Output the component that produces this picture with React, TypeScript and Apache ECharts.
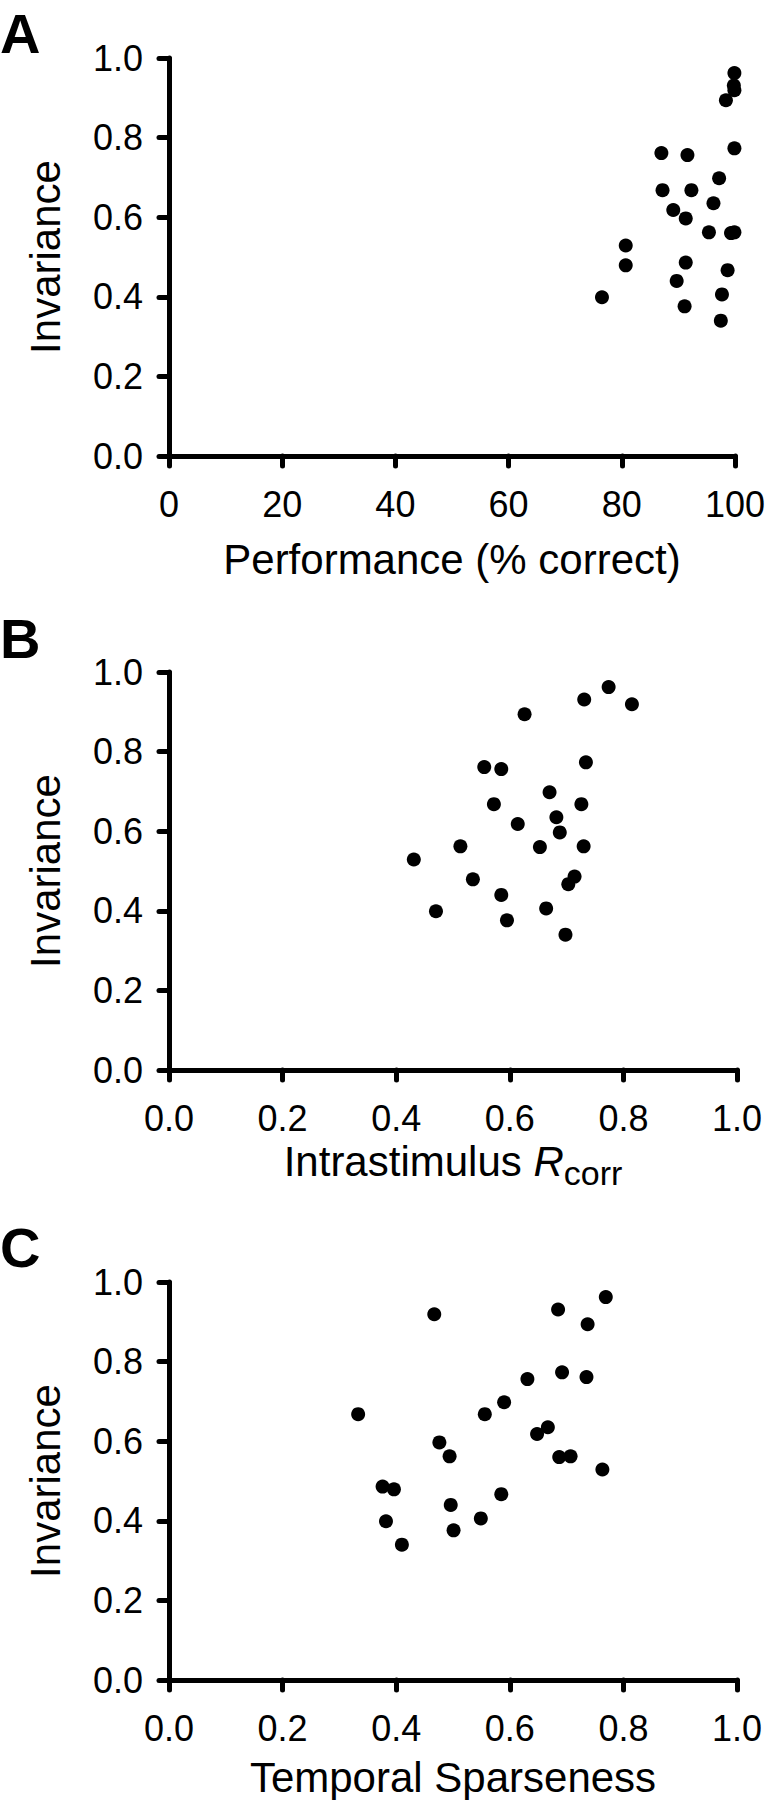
import React, { useEffect, useRef } from "react";
import * as echarts from "echarts";

// Shared invariance values (one per neuron), y-axis of all three panels
const invariance = [0.962, 0.931, 0.919, 0.894, 0.773, 0.761, 0.756, 0.698, 0.668, 0.668, 0.635, 0.618, 0.597, 0.562, 0.560, 0.562, 0.529, 0.486, 0.479, 0.467, 0.440, 0.406, 0.399, 0.376, 0.340];
// Panel A x: Performance (% correct)
const performance = [99.9, 99.8, 99.9, 98.4, 99.9, 87.0, 91.6, 97.2, 87.2, 92.3, 96.2, 89.1, 91.3, 95.4, 99.3, 99.9, 80.7, 91.3, 80.7, 98.7, 89.7, 97.7, 76.5, 91.1, 97.5];
// Panel B x: Intrastimulus Rcorr
const rcorr = [0.774, 0.731, 0.815, 0.626, 0.734, 0.555, 0.585, 0.670, 0.572, 0.726, 0.682, 0.614, 0.688, 0.513, 0.653, 0.730, 0.431, 0.714, 0.535, 0.703, 0.585, 0.664, 0.470, 0.595, 0.698];
// Panel C x: Temporal Sparseness
const sparseness = [0.769, 0.685, 0.467, 0.737, 0.692, 0.735, 0.631, 0.590, 0.556, 0.333, 0.667, 0.648, 0.476, 0.494, 0.687, 0.707, 0.763, 0.376, 0.396, 0.585, 0.496, 0.549, 0.382, 0.501, 0.410];

const panelLetters = ["A", "B", "C"];
const yTitle = "Invariance";
const xTitles = ["Performance (% correct)", "Intrastimulus {i|R}{s|corr}", "Temporal Sparseness"];

const FONT = '"Liberation Sans", Arial, Helvetica, sans-serif';

export default function App() {
  const ref = useRef<HTMLDivElement>(null);
  useEffect(() => {
    document.body.style.margin = "0";
    if (!ref.current) return;
    const chart = echarts.init(ref.current, null, { renderer: "svg" });

    const grids = [
      { left: 169, top: 58, width: 568, height: 398 },
      { left: 169, top: 672, width: 568, height: 398 },
      { left: 169, top: 1282, width: 568, height: 398 },
    ];
    const letterY = [33, 638, 1247];
    const xNameGaps = [82, 70, 76];
    const xRanges = [
      { min: 0, max: 100, interval: 20, fmt: (v: number) => String(v) },
      { min: 0, max: 1, interval: 0.2, fmt: (v: number) => v.toFixed(1) },
      { min: 0, max: 1, interval: 0.2, fmt: (v: number) => v.toFixed(1) },
    ];
    const xData = [performance, rcorr, sparseness];

    const axisLine = { show: true, onZero: false, lineStyle: { color: "#000", width: 5 } };
    const axisTick = { show: true, length: 10, lineStyle: { color: "#000", width: 5, cap: "round" } };
    const labelStyle = { color: "#000", fontSize: 36, fontFamily: FONT };
    const nameStyle = { color: "#000", fontSize: 42, fontFamily: FONT };

    const option: any = {
      animation: false,
      backgroundColor: "#fff",
      grid: grids,
      xAxis: grids.map((_, i) => ({
        type: "value",
        gridIndex: i,
        min: xRanges[i].min,
        max: xRanges[i].max,
        interval: xRanges[i].interval,
        axisLine,
        axisTick,
        splitLine: { show: false },
        axisLabel: { ...labelStyle, margin: 30, formatter: xRanges[i].fmt },
        name: xTitles[i],
        nameLocation: "middle",
        nameGap: xNameGaps[i],
        nameTextStyle: {
          ...nameStyle,
          rich: {
            i: { fontSize: 42, fontStyle: "italic", fontFamily: FONT, color: "#000", lineHeight: 42, verticalAlign: "top" },
            s: { fontSize: 34, fontFamily: FONT, color: "#000", lineHeight: 34, verticalAlign: "top", padding: [16, 0, 0, 0] },
          },
        },
      })),
      yAxis: grids.map((_, i) => ({
        type: "value",
        gridIndex: i,
        min: 0,
        max: 1,
        interval: 0.2,
        axisLine,
        axisTick,
        splitLine: { show: false },
        axisLabel: { ...labelStyle, margin: 26, formatter: (v: number) => v.toFixed(1) },
        name: yTitle,
        nameLocation: "middle",
        nameGap: 103,
        nameTextStyle: nameStyle,
      })),
      series: grids.map((_, i) => ({
        type: "scatter",
        xAxisIndex: i,
        yAxisIndex: i,
        symbol: "circle",
        symbolSize: 14,
        itemStyle: { color: "#000", opacity: 1 },
        data: xData[i].map((x, k) => [x, invariance[k]]),
      })),
      graphic: panelLetters.map((t, i) => ({
        type: "text",
        x: 0,
        y: letterY[i],
        style: {
          text: t,
          fill: "#000",
          font: `bold 56px ${FONT}`,
          verticalAlign: "middle",
          align: "left",
        },
      })),
    };
    chart.setOption(option);
    return () => chart.dispose();
  }, []);
  return <div ref={ref} style={{ width: 768, height: 1800 }} />;
}
